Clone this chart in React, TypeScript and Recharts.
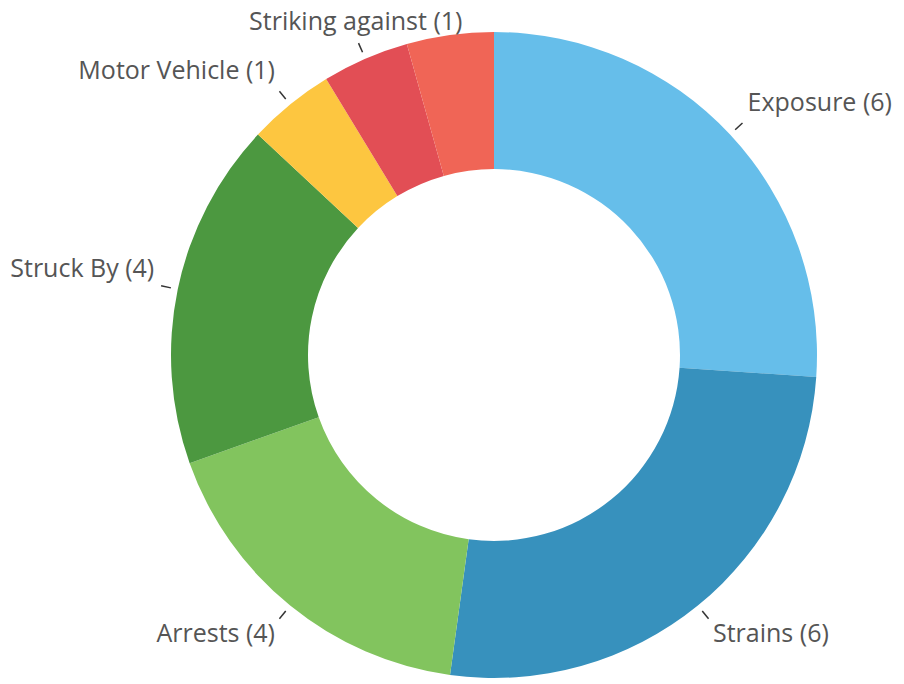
import { PieChart, Pie, Cell } from 'recharts';

const categories = ['Exposure', 'Strains', 'Arrests', 'Struck By', 'Motor Vehicle', 'Striking against', 'Other'];
const counts = [6, 6, 4, 4, 1, 1, 1];
const colors = ['#66beea', '#3791bd', '#82c45e', '#4c9840', '#fdc640', '#e24e55', '#f06556'];
const showLabel = [true, true, true, true, true, true, false];

const data = categories.map((name, i) => ({ name, value: counts[i] }));

const RADIAN = Math.PI / 180;

function renderLabel(props: any) {
  const { cx, cy, midAngle, outerRadius, name, value, index } = props;
  if (!showLabel[index]) return null;
  const sin = Math.sin(-midAngle * RADIAN);
  const cos = Math.cos(-midAngle * RADIAN);
  const x1 = cx + (outerRadius + 7) * cos;
  const y1 = cy + (outerRadius + 7) * sin;
  const x2 = cx + (outerRadius + 17) * cos;
  const y2 = cy + (outerRadius + 17) * sin;
  const lx = cx + (outerRadius + 24) * cos;
  const ly = cy + (outerRadius + 24) * sin;
  const anchor = Math.abs(cos) < 0.45 ? 'middle' : cos > 0 ? 'start' : 'end';
  const baseY = sin < 0 ? ly - 7 : ly + 18;
  return (
    <g>
      <line x1={x1} y1={y1} x2={x2} y2={y2} stroke="#333" strokeWidth={1.5} />
      <text x={lx} y={baseY} textAnchor={anchor} fill="#555" fontSize={25} fontFamily="'Open Sans', sans-serif">
        {`${name} (${value})`}
      </text>
    </g>
  );
}

export default function App() {
  return (
    <div style={{ position: 'absolute', left: 0, top: 0, background: '#fff' }}>
      <PieChart width={904} height={684} margin={{ top: 0, right: 0, bottom: 0, left: 0 }}>
        <Pie
          data={data}
          dataKey="value"
          nameKey="name"
          cx={494}
          cy={355}
          innerRadius={186}
          outerRadius={323}
          startAngle={90}
          endAngle={-270}
          stroke="none"
          label={renderLabel}
          labelLine={false}
          isAnimationActive={false}
        >
          {data.map((d, i) => (
            <Cell key={d.name} fill={colors[i]} />
          ))}
        </Pie>
      </PieChart>
    </div>
  );
}
